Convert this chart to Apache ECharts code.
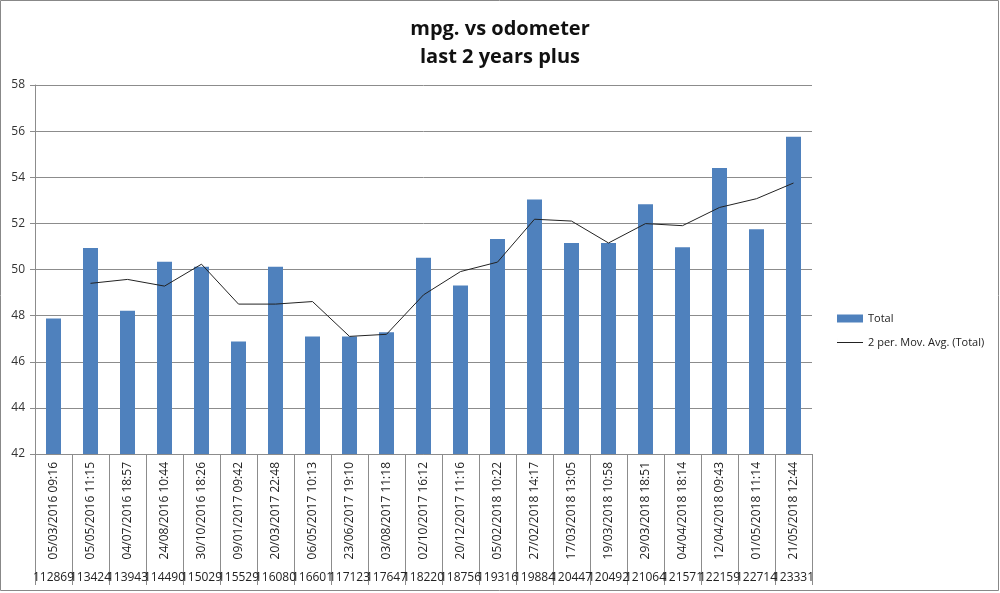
<!DOCTYPE html>
<html>
<head>
<meta charset="utf-8">
<script src="https://cdn.jsdelivr.net/npm/echarts@6/dist/echarts.min.js"></script>
<style>
  html, body { margin: 0; padding: 0; background: #fff; }
  #chart { width: 1000px; height: 593px; }
</style>
</head>
<body>
<div id="chart"></div>
<script>
// fill-up dates (rotated labels)
const dates = [
  '05/03/2016 09:16', '05/05/2016 11:15', '04/07/2016 18:57', '24/08/2016 10:44',
  '30/10/2016 18:26', '09/01/2017 09:42', '20/03/2017 22:48', '06/05/2017 10:13',
  '23/06/2017 19:10', '03/08/2017 11:18', '02/10/2017 16:12', '20/12/2017 11:16',
  '05/02/2018 10:22', '27/02/2018 14:17', '17/03/2018 13:05', '19/03/2018 10:58',
  '29/03/2018 18:51', '04/04/2018 18:14', '12/04/2018 09:43', '01/05/2018 11:14',
  '21/05/2018 12:44'
];

// odometer readings (outer labels)
const odometer = [
  '112869', '113424', '113943', '114490', '115029', '115529', '116080', '116601',
  '117123', '117647', '118220', '118756', '119316', '119884', '120447', '120492',
  '121064', '121571', '122159', '122714', '123331'
];

// mpg per fill
const total = [
  47.88, 50.93, 48.21, 50.34, 50.12, 46.88, 50.12, 47.10, 47.10, 47.28, 50.51,
  49.31, 51.32, 53.04, 51.15, 51.15, 52.83, 50.97, 54.40, 51.74, 55.76
];

// 2 period moving average as read from the trendline
const movAvg = [
  null, 49.40, 49.57, 49.28, 50.23, 48.50, 48.50, 48.61, 47.10, 47.19, 48.90,
  49.91, 50.32, 52.18, 52.10, 51.15, 51.99, 51.90, 52.69, 53.07, 53.75
];

const yTicks = { min: 42, max: 58, step: 2 };

const chart = echarts.init(document.getElementById('chart'));

const option = {
  animation: false,
  textStyle: { fontFamily: 'Open Sans' },
  title: {
    text: 'mpg. vs odometer\nlast 2 years plus',
    left: 'center',
    top: 10,
    textStyle: {
      fontSize: 20,
      fontWeight: 'bold',
      color: '#111',
      lineHeight: 28,
      fontFamily: 'Open Sans'
    }
  },
  legend: {
    orient: 'vertical',
    left: 832,
    top: 308,
    itemWidth: 26,
    itemHeight: 8,
    itemGap: 13,
    textStyle: { fontSize: 11, color: '#222' },
    data: [
      { name: 'Total', icon: 'rect' },
      {
        name: '2 per. Mov. Avg. (Total)',
        icon: 'path://M0,3.5 H26 V4.6 H0 Z M0,0 H0.01 V8 H0 Z'
      }
    ]
  },
  grid: {
    left: 35,
    right: 188,
    top: 85,
    bottom: 139
  },
  xAxis: [
    {
      type: 'category',
      data: dates,
      axisLine: { show: true, lineStyle: { color: '#8c8c8c' } },
      axisTick: {
        show: true,
        interval: 0,
        length: 131,
        lineStyle: { color: '#8c8c8c' }
      },
      axisLabel: {
        interval: 0,
        rotate: 90,
        margin: 8,
        fontSize: 12,
        color: '#222'
      }
    },
    {
      type: 'category',
      data: odometer,
      position: 'bottom',
      offset: 116,
      axisLine: { show: false },
      axisTick: { show: false },
      axisLabel: {
        interval: 0,
        margin: 2,
        fontSize: 12,
        color: '#222'
      }
    }
  ],
  yAxis: {
    type: 'value',
    min: yTicks.min,
    max: yTicks.max,
    interval: yTicks.step,
    axisLine: { show: true, lineStyle: { color: '#8c8c8c' } },
    axisTick: { show: true, length: 5, lineStyle: { color: '#8c8c8c' } },
    axisLabel: { fontSize: 12, color: '#333', margin: 10 },
    splitLine: { lineStyle: { color: '#8c8c8c' } }
  },
  series: [
    {
      name: 'Total',
      type: 'bar',
      data: total,
      barWidth: 15,
      itemStyle: { color: '#4F81BD' }
    },
    {
      name: '2 per. Mov. Avg. (Total)',
      type: 'line',
      data: movAvg,
      symbol: 'none',
      connectNulls: false,
      lineStyle: { color: '#222', width: 1 },
      itemStyle: { color: '#222' }
    }
  ],
  graphic: [
    {
      type: 'rect',
      shape: { x: 0.5, y: 0.5, width: 998, height: 590 },
      style: { fill: 'none', stroke: '#888', lineWidth: 1 },
      silent: true
    }
  ]
};

chart.setOption(option);
</script>
</body>
</html>
